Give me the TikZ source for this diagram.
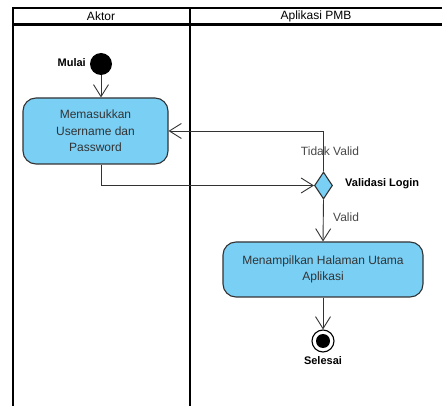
\documentclass[tikz,border=0pt]{standalone}
\usepackage{fontspec}
\setmainfont{Liberation Sans}
\usetikzlibrary{arrows.meta,shapes.geometric}
\definecolor{actfill}{HTML}{7ACFF5}
\definecolor{linec}{HTML}{333333}
\definecolor{txtc}{HTML}{333333}
\begin{document}
\begin{tikzpicture}[x=1pt,y=-1pt,
  lane/.style={line width=2.2pt, black},
  act/.style={draw=linec, line width=1.1pt, fill=actfill, rounded corners=13pt, align=center,
    text=txtc, font=\fontsize{12}{16.5}\selectfont, inner sep=2pt},
  flow/.style={draw=linec, line width=0.9pt, -{Straight Barb[length=12pt,width=15pt,line width=0.9pt]}},
  startnode/.style={circle, fill=black, minimum size=22pt, inner sep=0pt},
  endnode/.style={circle, draw=black, line width=1.1pt, fill=white, minimum size=22pt, inner sep=0pt},
  decnode/.style={diamond, draw=linec, line width=1.1pt, fill=actfill, minimum width=18pt, minimum height=27pt, inner sep=0pt},
  blabel/.style={font=\bfseries\fontsize{11}{13}\selectfont, text=black, inner sep=1pt},
  glabel/.style={font=\fontsize{12}{13}\selectfont, text=black!72, inner sep=1pt},
  hlabel/.style={font=\fontsize{12}{13}\selectfont, text=black, inner sep=1pt}
]
\useasboundingbox (0,0) rectangle (442,406);
\begin{scope}
\clip (0,0) rectangle (442,406);
\draw[lane] (13,430) -- (13,8) -- (460,8);
\draw[lane] (13,24.5) -- (460,24.5);
\draw[lane] (190,8) -- (190,430);
\end{scope}
\node[hlabel] (h1) at (101,16.5) {Aktor};
\node[hlabel] (h2) at (316,16.5) {Aplikasi PMB};

\node[startnode] (start) at (101,64) {};
\node[blabel, anchor=east] (mulai) at (87,63) {Mulai};

\node[act, minimum width=145pt, minimum height=66pt] (inp) at (95.5,131) {Memasukkan\\Username dan\\Password};

\node[decnode] (dec) at (323.5,185.5) {};
\node[blabel, anchor=west] (vl) at (344,184) {Validasi Login};

\node[act, minimum width=200pt, minimum height=55pt] (app) at (323,269.5) {Menampilkan Halaman Utama\\Aplikasi};

\node[endnode] (end) at (323,341) {};
\fill[black] (end.center) circle (7pt);
\node[blabel] (sel) at (323,361) {Selesai};

\draw[flow] (start) -- (inp.north -| start);
\draw[flow] (inp.south -| start) |- (dec.west);
\draw[flow] (dec.north) |- (inp.east);
\node[glabel] (tv) at (330,151) {Tidak Valid};
\draw[flow] (dec.south) -- (app.north);
\node[glabel, anchor=west] (v) at (332,217) {Valid};
\draw[flow] (app.south) -- (end.north);
\end{tikzpicture}
\end{document}
